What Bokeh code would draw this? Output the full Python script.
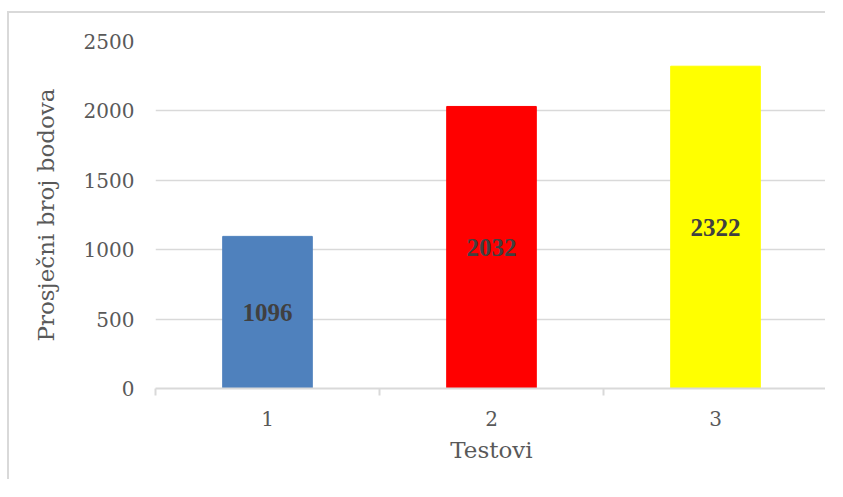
from bokeh.plotting import figure
from bokeh.models import ColumnDataSource, FixedTicker, Range1d, LabelSet
from bokeh.embed import file_html
from bokeh.resources import INLINE

categories = ["1", "2", "3"]
values = [1096, 2032, 2322]
colors = ["#4f81bd", "#ff0000", "#ffff00"]
y_ticks = [0, 500, 1000, 1500, 2000, 2500]
x_title = "Testovi"
y_title = "Prosječni broj bodova"

xs = [i + 1 for i in range(len(categories))]
source = ColumnDataSource(dict(
    x=xs,
    top=values,
    mid=[v / 2 for v in values],
    label=[str(v) for v in values],
    color=colors,
))

FONT = "DejaVu Serif"

p = figure(width=818, height=468, output_backend="svg", toolbar_location=None,
           x_range=Range1d(0.5, len(categories) + 0.5), y_range=Range1d(0, 2500),
           min_border_left=146, min_border_right=0, min_border_top=28, min_border_bottom=93)
p.styles = {"border-left": "2px solid #d9d9d9", "border-top": "2px solid #d9d9d9",
            "margin-left": "7px", "margin-top": "11px"}
p.outline_line_color = None

p.vbar(x="x", top="top", width=0.4, color="color", source=source)

labels = LabelSet(x="x", y="mid", text="label", source=source,
                  text_align="center", text_baseline="middle",
                  text_font=FONT, text_font_size="25px", text_font_style="bold",
                  text_color="#404040")
p.add_layout(labels)

# x axis
p.xaxis.ticker = FixedTicker(ticks=xs, minor_ticks=[x - 0.5 for x in xs] + [xs[-1] + 0.5])
p.xaxis.major_label_overrides = {x: c for x, c in zip(xs, categories)}
p.xaxis.major_tick_line_color = None
p.xaxis.minor_tick_line_color = "#d9d9d9"
p.xaxis.minor_tick_line_width = 2
p.xaxis.minor_tick_in = 0
p.xaxis.minor_tick_out = 7
p.xaxis.axis_line_color = "#d9d9d9"
p.xaxis.axis_line_width = 2
p.xaxis.major_label_standoff = 15
p.xaxis.axis_label = x_title
p.xaxis.axis_label_standoff = 8

# y axis
p.yaxis.ticker = FixedTicker(ticks=y_ticks)
p.yaxis.axis_line_color = None
p.yaxis.major_tick_line_color = None
p.yaxis.minor_tick_line_color = None
p.yaxis.major_label_standoff = 15
p.yaxis.axis_label = y_title
p.yaxis.axis_label_standoff = 22

for ax in (p.xaxis, p.yaxis):
    ax.major_label_text_font = FONT
    ax.major_label_text_font_size = "20px"
    ax.major_label_text_color = "#595959"
    ax.axis_label_text_font = FONT
    ax.axis_label_text_font_size = "23px"
    ax.axis_label_text_font_style = "normal"
    ax.axis_label_text_color = "#595959"

p.xgrid.grid_line_color = None
p.ygrid.grid_line_color = "#d9d9d9"
p.ygrid.grid_line_width = 1.5

open("out.html", "w").write(file_html(p, INLINE))
